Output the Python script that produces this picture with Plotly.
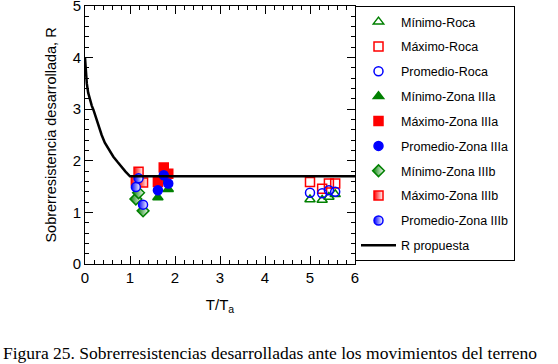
import plotly.graph_objects as go

# ---- data ----
x_roca = [5.00, 5.27, 5.42, 5.56]
min_roca = [1.25, 1.24, 1.30, 1.35]
max_roca = [1.59, 1.46, 1.56, 1.56]
prom_roca = [1.38, 1.37, 1.43, 1.40]

x_IIIa = [1.62, 1.75, 1.85]
min_IIIa = [1.29, 1.62, 1.45]
max_IIIa = [1.59, 1.87, 1.75]
prom_IIIa = [1.43, 1.72, 1.56]

x_IIIb = [1.13, 1.19, 1.29]
min_IIIb = [1.26, 1.38, 1.03]
max_IIIb = [1.62, 1.79, 1.58]
prom_IIIb = [1.49, 1.66, 1.15]

r_x = [0.0, 0.01, 0.02, 0.04, 0.07, 0.11, 0.15, 0.19, 0.25, 0.30, 0.37, 0.44, 0.53, 0.63, 0.72, 0.81, 0.90, 1.0, 6.0]
r_y = [4.0, 3.85, 3.72, 3.50, 3.32, 3.17, 3.07, 2.98, 2.81, 2.66, 2.50, 2.35, 2.21, 2.08, 1.98, 1.88, 1.79, 1.70, 1.70]

GREEN = "#008000"
RED = "#ff0000"
BLUE = "#0000ff"
MS = 9

fig = go.Figure()

def add(x, y, name, symbol, color, fill=None, grad=None):
    marker = dict(symbol=symbol, size=MS, color=fill if fill else color,
                  line=dict(color=color, width=1.5))
    if grad:
        marker["gradient"] = dict(type="horizontal", color=grad)
    fig.add_trace(go.Scatter(x=x, y=y, mode="markers", name=name, marker=marker,
                             legendgroup=name))

add(x_roca, min_roca, "Mínimo-Roca", "triangle-up-open", GREEN)
add(x_roca, max_roca, "Máximo-Roca", "square-open", RED)
add(x_roca, prom_roca, "Promedio-Roca", "circle-open", BLUE)
add(x_IIIa, min_IIIa, "Mínimo-Zona IIIa", "triangle-up", GREEN)
add(x_IIIa, max_IIIa, "Máximo-Zona IIIa", "square", RED)
add(x_IIIa, prom_IIIa, "Promedio-Zona IIIa", "circle", BLUE)
add(x_IIIb, min_IIIb, "Mínimo-Zona IIIb", "diamond", GREEN, fill=GREEN, grad="white")
add(x_IIIb, max_IIIb, "Máximo-Zona IIIb", "square", RED, fill=RED, grad="white")
add(x_IIIb, prom_IIIb, "Promedio-Zona IIIb", "circle", BLUE, fill=BLUE, grad="white")

fig.add_trace(go.Scatter(x=r_x, y=r_y, mode="lines", name="R propuesta",
                         line=dict(color="black", width=2.5),
                         legendgroup="R"))

axis_common = dict(
    showline=True, linecolor="black", linewidth=1, mirror="ticks",
    ticks="inside", ticklen=8, tickcolor="black", tickwidth=1,
    showgrid=False, zeroline=False, automargin=False,
    ticklabeloverflow="allow",
    tickfont=dict(family="Liberation Sans, Arial", size=15, color="black"),
    minor=dict(ticks="inside", ticklen=4, tickcolor="black", dtick=0.2, showgrid=False),
    dtick=1,
)

fig.update_layout(
    width=558, height=364,
    margin=dict(l=85, r=203, t=6, b=100, autoexpand=False),
    paper_bgcolor="white", plot_bgcolor="white",
    xaxis=dict(range=[0, 6], tick0=0,
               title=dict(text="T/T<sub>a</sub>", standoff=14,
                          font=dict(family="Liberation Sans, Arial", size=15, color="black")),
               **axis_common),
    yaxis=dict(range=[0, 5], tick0=0,
               title=dict(text="Sobrerresistencia desarrollada, R", standoff=12,
                          font=dict(family="Liberation Sans, Arial", size=14.5, color="black")),
               **axis_common),
    legend=dict(x=1.0, xanchor="left", y=1.0, yanchor="top",
                bordercolor="black", borderwidth=1, bgcolor="white",
                font=dict(family="Liberation Sans, Arial", size=12.5, color="black"),
                traceorder="grouped", tracegroupgap=5.6, itemwidth=35),
    showlegend=True,
)

fig.add_annotation(
    text="Figura 25. Sobrerresistencias desarrolladas ante los movimientos del terreno",
    xref="paper", yref="paper", x=(1 - 85) / 270, y=(264 - 353) / 258,
    xanchor="left", yanchor="middle", showarrow=False,
    font=dict(family="Liberation Serif, Times New Roman", size=17.5, color="black"),
)

fig.write_html("out.html", config={"displayModeBar": False},
               post_script="document.body.style.margin='0';")
